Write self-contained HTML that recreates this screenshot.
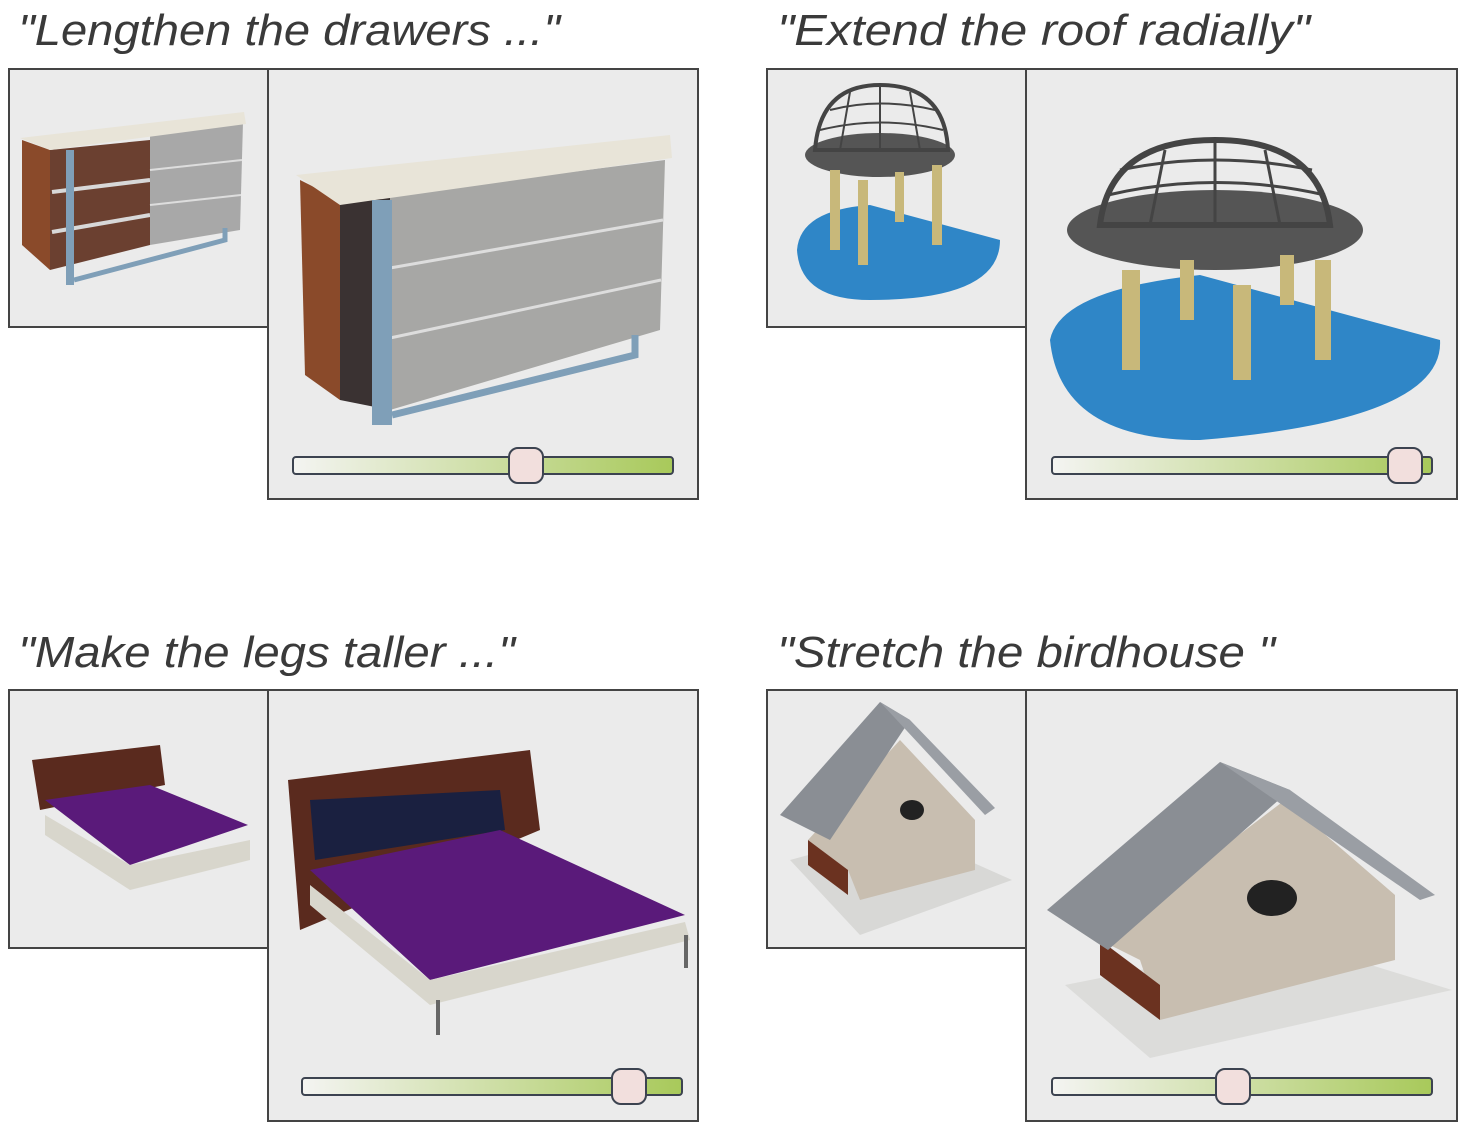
<!DOCTYPE html>
<html><head><style>html,body{margin:0;padding:0;background:#fff}svg{display:block}</style></head><body>
<svg width="1467" height="1130" viewBox="0 0 1467 1130" xmlns="http://www.w3.org/2000/svg">
<defs>
<linearGradient id="sl" x1="0" x2="1"><stop offset="0" stop-color="#f4f4f2"/><stop offset="1" stop-color="#a8c95a"/></linearGradient>
</defs>
<g font-family="Liberation Sans, sans-serif" font-style="italic" font-size="44" fill="#3a3a3a">
<text x="18" y="45" textLength="542" lengthAdjust="spacingAndGlyphs">"Lengthen the drawers ..."</text>
<text x="777" y="45" textLength="533" lengthAdjust="spacingAndGlyphs">"Extend the roof radially"</text>
<text x="18" y="667" textLength="497" lengthAdjust="spacingAndGlyphs">"Make the legs taller ..."</text>
<text x="777" y="667" textLength="498" lengthAdjust="spacingAndGlyphs">"Stretch the birdhouse "</text>
</g>
<g fill="#ebebeb" stroke="#444" stroke-width="2">
<rect x="9" y="69" width="259" height="258"/><rect x="268" y="69" width="430" height="430"/>
<rect x="767" y="69" width="259" height="258"/><rect x="1026" y="69" width="431" height="430"/>
<rect x="9" y="690" width="259" height="258"/><rect x="268" y="690" width="430" height="431"/>
<rect x="767" y="690" width="259" height="258"/><rect x="1026" y="690" width="431" height="431"/>
</g>
<!-- dresser small -->
<polygon points="22,140 50,150 50,270 22,245" fill="#8a4a2a"/>
<polygon points="50,150 150,140 150,245 50,270" fill="#6b4030"/>
<g stroke="#d8d8d8" stroke-width="4"><line x1="52" y1="192" x2="150" y2="180"/><line x1="52" y1="232" x2="150" y2="215"/></g>
<polygon points="150,135 243,122 240,230 150,245" fill="#a8a8a8"/>
<g stroke="#ddd" stroke-width="2"><line x1="150" y1="170" x2="242" y2="160"/><line x1="150" y1="205" x2="241" y2="195"/></g>
<polygon points="20,138 244,112 246,124 50,150" fill="#e8e4d8"/>
<rect x="66" y="150" width="8" height="135" fill="#7f9fb8"/>
<polyline points="74,280 225,240 225,228" fill="none" stroke="#7f9fb8" stroke-width="5"/>
<!-- dresser large -->
<polygon points="300,180 340,200 340,400 305,375" fill="#8a4a2a"/>
<polygon points="340,200 390,195 390,410 340,400" fill="#3a3232"/>
<polygon points="390,195 665,160 660,330 390,410" fill="#a7a7a5"/>
<g stroke="#ddd" stroke-width="3"><line x1="390" y1="268" x2="663" y2="220"/><line x1="390" y1="338" x2="661" y2="280"/></g>
<polygon points="296,175 670,135 672,158 340,205" fill="#e8e4d8"/>
<rect x="372" y="200" width="20" height="225" fill="#7f9fb8"/>
<polyline points="392,415 635,355 635,335" fill="none" stroke="#7f9fb8" stroke-width="7"/>
<!-- gazebo small -->
<path d="M797,250 Q800,210 870,205 L1000,240 Q1000,300 870,300 Q800,300 797,250Z" fill="#2f86c7"/>
<ellipse cx="880" cy="155" rx="75" ry="22" fill="#555"/>
<path d="M815,150 Q820,85 880,85 Q945,85 948,150Z" fill="none" stroke="#444" stroke-width="4"/>
<g stroke="#444" stroke-width="2" fill="none"><path d="M820,130 Q880,115 943,130"/><path d="M830,110 Q880,97 935,110"/><line x1="880" y1="85" x2="880" y2="150"/><line x1="850" y1="92" x2="840" y2="150"/><line x1="910" y1="92" x2="920" y2="150"/></g>
<rect x="830" y="170" width="10" height="80" fill="#c8b87a"/><rect x="858" y="180" width="10" height="85" fill="#c8b87a"/><rect x="932" y="165" width="10" height="80" fill="#c8b87a"/><rect x="895" y="172" width="9" height="50" fill="#c8b87a"/>
<!-- gazebo large -->
<path d="M1050,340 Q1060,290 1200,275 L1440,340 Q1445,420 1200,440 Q1060,440 1050,340Z" fill="#2f86c7"/>
<ellipse cx="1215" cy="230" rx="148" ry="40" fill="#555"/>
<path d="M1100,225 Q1110,140 1215,140 Q1320,140 1330,225Z" fill="none" stroke="#444" stroke-width="6"/>
<g stroke="#444" stroke-width="3" fill="none"><path d="M1108,195 Q1215,170 1325,195"/><path d="M1120,170 Q1215,150 1312,170"/><line x1="1215" y1="140" x2="1215" y2="225"/><line x1="1165" y1="150" x2="1150" y2="225"/><line x1="1265" y1="150" x2="1280" y2="225"/></g>
<rect x="1122" y="270" width="18" height="100" fill="#c8b87a"/><rect x="1233" y="285" width="18" height="95" fill="#c8b87a"/><rect x="1315" y="260" width="16" height="100" fill="#c8b87a"/><rect x="1180" y="260" width="14" height="60" fill="#c8b87a"/><rect x="1280" y="255" width="14" height="50" fill="#c8b87a"/>
<!-- bed small -->
<polygon points="32,760 160,745 165,785 40,810" fill="#5a2a1e"/>
<polygon points="45,800 150,785 248,825 130,865" fill="#5a1a7a"/>
<polygon points="45,815 130,865 250,840 250,860 130,890 45,835" fill="#d8d6cc"/>
<!-- bed large -->
<polygon points="288,780 530,750 540,830 300,930" fill="#5a2a1e"/>
<polygon points="310,800 500,790 505,830 315,860" fill="#1a2040"/>
<polygon points="310,870 500,830 685,915 430,980" fill="#5a1a7a"/>
<polygon points="310,885 430,980 685,922 690,940 430,1005 310,905" fill="#d8d6cc"/>
<g stroke="#666" stroke-width="4"><line x1="438" y1="1000" x2="438" y2="1035"/><line x1="686" y1="935" x2="686" y2="968"/></g>
<!-- birdhouse small -->
<polygon points="790,860 900,830 1012,880 860,935" fill="#d8d8d6"/>
<polygon points="808,840 900,740 975,820 975,870 860,900 848,870" fill="#c8beb0"/>
<polygon points="808,840 848,870 848,895 808,865" fill="#6b3220"/>
<polygon points="780,815 880,702 910,720 830,840" fill="#8a8e94"/>
<polygon points="880,702 910,720 995,808 985,815" fill="#9a9ea4"/>
<ellipse cx="912" cy="810" rx="12" ry="10" fill="#222"/>
<!-- birdhouse large -->
<polygon points="1065,985 1290,940 1452,990 1150,1058" fill="#dcdcda"/>
<polygon points="1100,940 1285,800 1395,895 1395,960 1160,1020 1140,960" fill="#c8beb0"/>
<polygon points="1100,940 1160,985 1160,1020 1100,975" fill="#6b3220"/>
<polygon points="1047,910 1220,762 1290,790 1108,950" fill="#8a8e94"/>
<polygon points="1220,762 1290,790 1435,895 1420,900" fill="#9a9ea4"/>
<ellipse cx="1272" cy="898" rx="25" ry="18" fill="#222"/>
<!-- sliders -->
<g stroke="#3c4350" stroke-width="2">
<rect x="293" y="457" width="380" height="17" rx="3" fill="url(#sl)"/>
<rect x="509" y="448" width="34" height="35" rx="9" fill="#f2dfdd"/>
<rect x="1052" y="457" width="380" height="17" rx="3" fill="url(#sl)"/>
<rect x="1388" y="448" width="34" height="35" rx="9" fill="#f2dfdd"/>
<rect x="302" y="1078" width="380" height="17" rx="3" fill="url(#sl)"/>
<rect x="612" y="1069" width="34" height="35" rx="9" fill="#f2dfdd"/>
<rect x="1052" y="1078" width="380" height="17" rx="3" fill="url(#sl)"/>
<rect x="1216" y="1069" width="34" height="35" rx="9" fill="#f2dfdd"/>
</g>
</svg>
</body></html>
